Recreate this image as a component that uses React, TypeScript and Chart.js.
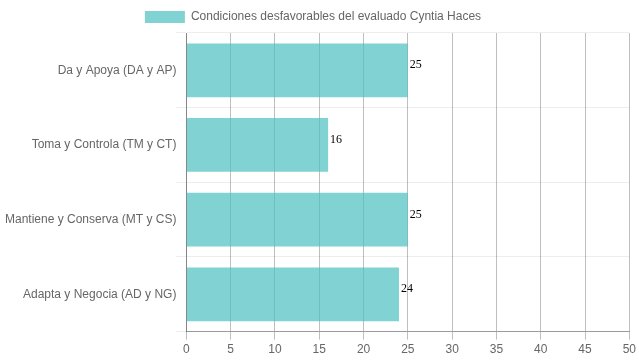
import React, { useEffect, useRef } from "react";
import { Chart, registerables } from "chart.js";

Chart.register(...registerables);

const categories = [
  "Da y Apoya (DA y AP)",
  "Toma y Controla (TM y CT)",
  "Mantiene y Conserva (MT y CS)",
  "Adapta y Negocia (AD y NG)",
];
const values = [25, 16, 25, 24];
const seriesLabel = "Condiciones desfavorables del evaluado Cyntia Haces";

const valueLabels = {
  id: "valueLabels",
  afterDatasetsDraw(chart: any) {
    const ctx = chart.ctx;
    ctx.save();
    ctx.font = "12px 'Liberation Serif', 'DejaVu Serif', serif";
    ctx.fillStyle = "#000";
    ctx.textAlign = "left";
    ctx.textBaseline = "bottom";
    const meta = chart.getDatasetMeta(0);
    meta.data.forEach((bar: any, i: number) => {
      ctx.fillText(String(chart.data.datasets[0].data[i]), bar.x + 2, bar.y + 1);
    });
    ctx.restore();
  },
};

const shiftLegend = {
  id: "shiftLegend",
  afterLayout(chart: any) {
    if (chart.legend) {
      chart.legend.left -= 8;
      chart.legend.right -= 8;
    }
  },
};

export default function App() {
  const ref = useRef<HTMLCanvasElement>(null);
  useEffect(() => {
    document.body.style.margin = "0";
    const font = { family: "'Liberation Sans', Arial, Helvetica, sans-serif", size: 12 };
    const chart = new Chart(ref.current!, {
      type: "bar",
      data: {
        labels: categories,
        datasets: [
          {
            label: seriesLabel,
            data: values,
            backgroundColor: "rgba(75,192,192,0.7)",
            borderColor: "rgba(75,192,192,0.7)",
            borderWidth: 0,
          },
        ],
      },
      options: {
        indexAxis: "y",
        animation: false,
        responsive: false,
        maintainAspectRatio: false,
        layout: { padding: { left: 5, right: 2, top: 1, bottom: 0 } },
        plugins: {
          legend: {
            position: "top",
            labels: { font, color: "#666", boxWidth: 40, boxHeight: 12 },
          },
          tooltip: { enabled: false },
        },
        scales: {
          x: {
            min: 0,
            max: 50,
            ticks: { stepSize: 5, font, color: "#666" },
            grid: { color: "rgba(0,0,0,0.25)", tickLength: 8 },
            border: { color: "rgba(0,0,0,0.35)" },
          },
          y: {
            ticks: { font, color: "#666", padding: 0 },
            grid: { color: "rgba(0,0,0,0.07)", offset: true, tickLength: 10 },
            border: { color: "rgba(0,0,0,0.3)" },
          },
        },
      },
      plugins: [valueLabels, shiftLegend],
    } as any);
    return () => chart.destroy();
  }, []);
  return (
    <div style={{ width: 639, height: 360 }}>
      <canvas ref={ref} width={639} height={360} style={{ display: "block" }} />
    </div>
  );
}
